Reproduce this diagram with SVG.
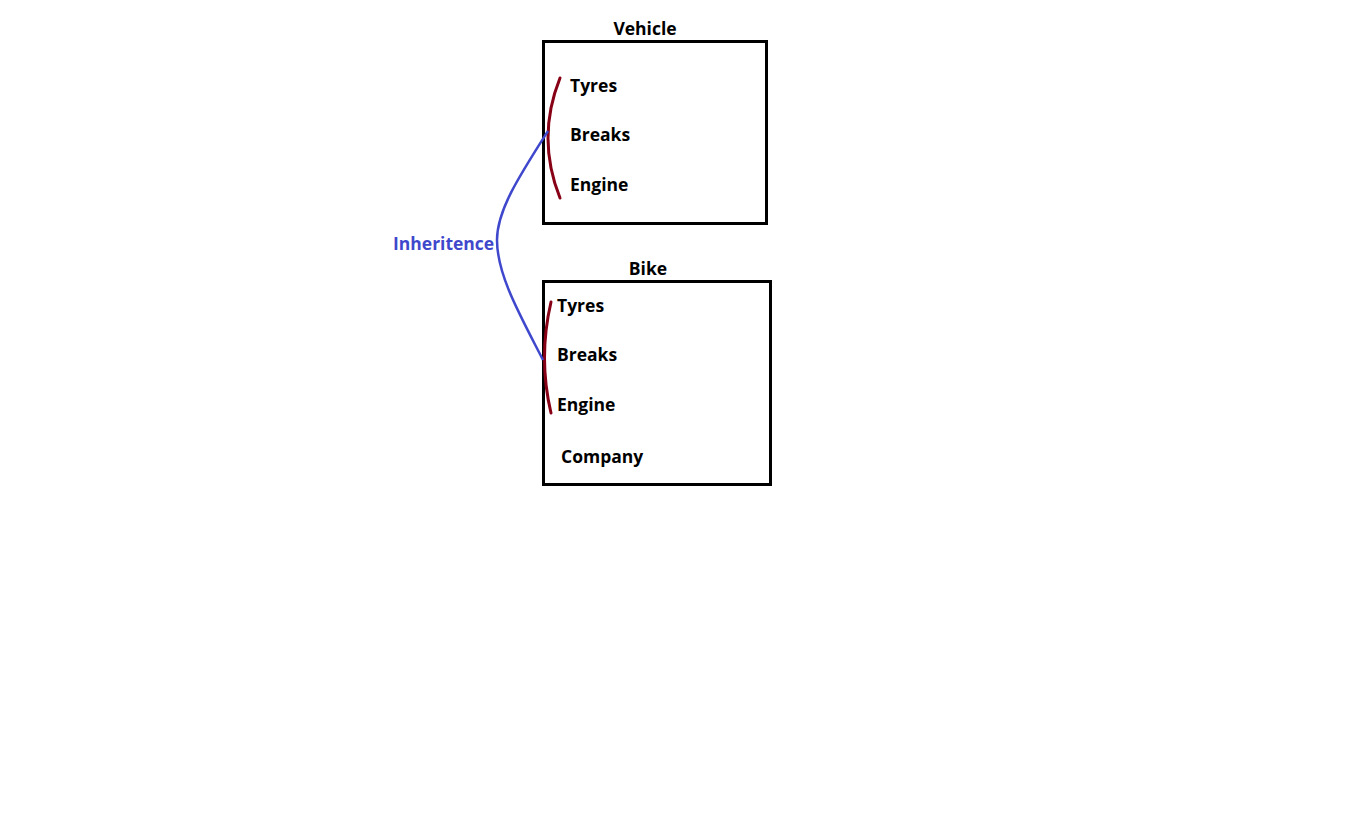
<svg xmlns="http://www.w3.org/2000/svg" width="1358" height="831" viewBox="0 0 1358 831">
<style>
.box{fill:none;stroke:#000;stroke-width:3}
.t{font-family:"Open Sans","Noto Sans",sans-serif;font-weight:bold;font-size:17.5px;fill:#000}
.brace{fill:none;stroke:#880015;stroke-width:3;stroke-linecap:round}
.inh{fill:none;stroke:#3f48cc;stroke-width:2.5}
</style>
<rect width="1358" height="831" fill="#fff"/>
<g id="vehicle">
<rect class="box" x="543.5" y="41.5" width="223" height="182"/>
<text class="t" x="645" y="35" text-anchor="middle">Vehicle</text>
<text class="t" x="570" y="92">Tyres</text>
<text class="t" x="570" y="141">Breaks</text>
<text class="t" x="570" y="191">Engine</text>
</g>
<g id="bike">
<rect class="box" x="543.5" y="281.5" width="227" height="203"/>
<text class="t" x="648" y="275" text-anchor="middle">Bike</text>
<text class="t" x="557" y="312">Tyres</text>
<text class="t" x="557" y="361">Breaks</text>
<text class="t" x="557" y="411">Engine</text>
<text class="t" x="561" y="463">Company</text>
</g>
<g id="connectors">
<path class="brace" d="M560,78 Q536,138 560,198"/>
<path class="brace" d="M551,302 Q538,358 551,413"/>
<path class="inh" d="M548,131 C520,175 497,210 497,240 C497,275 520,315 543,360"/>
</g>
<text x="393" y="250" font-family="Open Sans,Noto Sans,sans-serif" font-weight="bold" font-size="17.5" fill="#3f48cc">Inheritence</text>
</svg>
